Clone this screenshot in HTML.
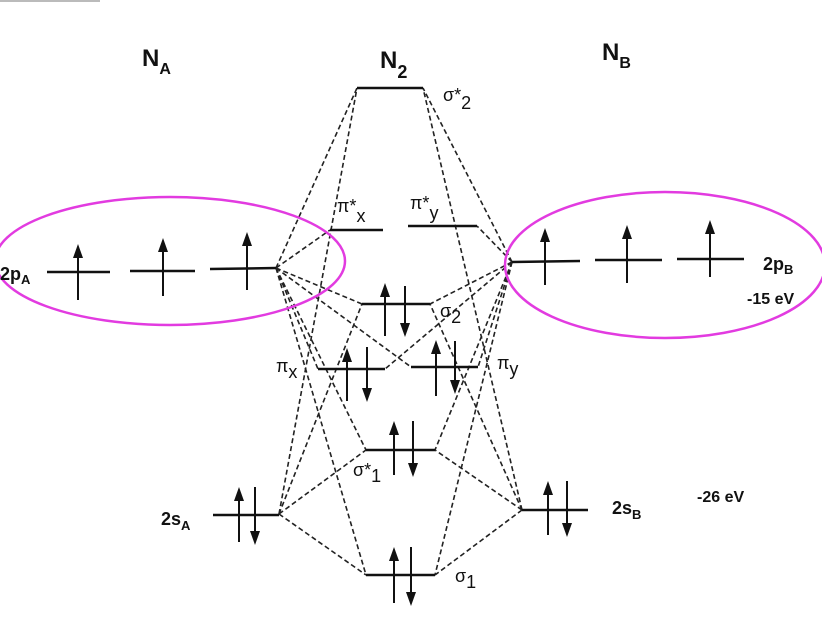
<!DOCTYPE html>
<html><head><meta charset="utf-8"><style>
html,body{margin:0;padding:0;background:#fff;}
svg{display:block;font-family:"Liberation Sans",sans-serif;}
</style></head><body>
<svg width="822" height="636" viewBox="0 0 822 636" xmlns="http://www.w3.org/2000/svg">
<rect x="0" y="0" width="822" height="636" fill="#fff"/>
<rect x="0" y="0" width="100" height="2" fill="#bbb"/>
<g stroke="#222" stroke-width="1.6" stroke-dasharray="5,3" fill="none">
<line x1="276" y1="268" x2="357" y2="88"/>
<line x1="276" y1="268" x2="330" y2="230"/>
<line x1="276" y1="268" x2="362" y2="304"/>
<line x1="276" y1="268" x2="318" y2="369"/>
<line x1="276" y1="268" x2="411" y2="367"/>
<line x1="276" y1="268" x2="366" y2="450"/>
<line x1="276" y1="268" x2="366" y2="575"/>
<line x1="512" y1="262" x2="423" y2="88"/>
<line x1="512" y1="262" x2="477" y2="226"/>
<line x1="512" y1="262" x2="430" y2="304"/>
<line x1="512" y1="262" x2="478" y2="367"/>
<line x1="512" y1="262" x2="385" y2="369"/>
<line x1="512" y1="262" x2="435" y2="450"/>
<line x1="512" y1="262" x2="435" y2="575"/>
<line x1="279" y1="514" x2="357" y2="88"/>
<line x1="279" y1="514" x2="362" y2="304"/>
<line x1="279" y1="514" x2="366" y2="450"/>
<line x1="279" y1="514" x2="366" y2="575"/>
<line x1="522" y1="510" x2="423" y2="88"/>
<line x1="522" y1="510" x2="430" y2="304"/>
<line x1="522" y1="510" x2="435" y2="450"/>
<line x1="522" y1="510" x2="435" y2="575"/>
</g>
<g stroke="#111" stroke-width="2.5" fill="none">
<line x1="357" y1="88" x2="423" y2="88"/>
<line x1="330" y1="230" x2="383" y2="230"/>
<line x1="408" y1="226" x2="477" y2="226"/>
<line x1="362" y1="304" x2="430" y2="304"/>
<line x1="318" y1="369" x2="385" y2="369"/>
<line x1="411" y1="367" x2="478" y2="367"/>
<line x1="366" y1="450" x2="435" y2="450"/>
<line x1="366" y1="575" x2="435" y2="575"/>
<line x1="213" y1="515" x2="279" y2="515"/>
<line x1="522" y1="510" x2="588" y2="510"/>
<line x1="47" y1="272" x2="110" y2="272"/>
<line x1="130" y1="271" x2="195" y2="271"/>
<line x1="210" y1="269" x2="276" y2="268"/>
<line x1="512" y1="262" x2="580" y2="261"/>
<line x1="595" y1="260" x2="662" y2="260"/>
<line x1="677" y1="259" x2="744" y2="259"/>
</g>
<g stroke="#111" stroke-width="2">
<line x1="78" y1="300" x2="78" y2="250"/>
<line x1="163" y1="296" x2="163" y2="244"/>
<line x1="247" y1="290" x2="247" y2="238"/>
<line x1="545" y1="285" x2="545" y2="234"/>
<line x1="627" y1="283" x2="627" y2="231"/>
<line x1="710" y1="277" x2="710" y2="226"/>
<line x1="385" y1="336" x2="385" y2="289"/>
<line x1="347" y1="401" x2="347" y2="354"/>
<line x1="436" y1="396" x2="436" y2="346"/>
<line x1="394" y1="475" x2="394" y2="427"/>
<line x1="239" y1="542" x2="239" y2="493"/>
<line x1="548" y1="535" x2="548" y2="487"/>
<line x1="394" y1="603" x2="394" y2="553"/>
<line x1="405" y1="286" x2="405" y2="331"/>
<line x1="367" y1="347" x2="367" y2="396"/>
<line x1="455" y1="341" x2="455" y2="388"/>
<line x1="413" y1="421" x2="413" y2="471"/>
<line x1="255" y1="487" x2="255" y2="539"/>
<line x1="567" y1="481" x2="567" y2="531"/>
<line x1="411" y1="547" x2="411" y2="600"/>
</g>
<g fill="#111">
<polygon points="73,258 78,244 83,258"/>
<polygon points="158,252 163,238 168,252"/>
<polygon points="242,246 247,232 252,246"/>
<polygon points="540,242 545,228 550,242"/>
<polygon points="622,239 627,225 632,239"/>
<polygon points="705,234 710,220 715,234"/>
<polygon points="380,297 385,283 390,297"/>
<polygon points="342,362 347,348 352,362"/>
<polygon points="431,354 436,340 441,354"/>
<polygon points="389,435 394,421 399,435"/>
<polygon points="234,501 239,487 244,501"/>
<polygon points="543,495 548,481 553,495"/>
<polygon points="389,561 394,547 399,561"/>
<polygon points="400,323 405,337 410,323"/>
<polygon points="362,388 367,402 372,388"/>
<polygon points="450,380 455,394 460,380"/>
<polygon points="408,463 413,477 418,463"/>
<polygon points="250,531 255,545 260,531"/>
<polygon points="562,523 567,537 572,523"/>
<polygon points="406,592 411,606 416,592"/>
</g>
<g fill="none" stroke="#e23be0" stroke-width="2.5">
<ellipse cx="170" cy="261" rx="175" ry="64"/>
<ellipse cx="665" cy="265" rx="160" ry="73"/>
</g>
<g fill="#111" font-size="24" font-weight="bold">
<text x="142" y="66">N<tspan font-size="16" dy="8">A</tspan></text>
<text x="380" y="68">N<tspan font-size="18" dy="10">2</tspan></text>
<text x="602" y="60">N<tspan font-size="16" dy="8">B</tspan></text>
</g>
<g fill="#111" font-size="18">
<text x="443" y="101">σ*<tspan dy="8">2</tspan></text>
<text x="337" y="212">π*<tspan dy="10">x</tspan></text>
<text x="410" y="209">π*<tspan dy="10">y</tspan></text>
<text x="0" y="280" font-weight="bold">2p<tspan font-size="13" dy="4">A</tspan></text>
<text x="763" y="270" font-weight="bold">2p<tspan font-size="13" dy="4">B</tspan></text>
<text x="747" y="304" font-weight="bold" font-size="16">-15 eV</text>
<text x="440" y="317">σ<tspan dy="6">2</tspan></text>
<text x="276" y="372">π<tspan dy="6">x</tspan></text>
<text x="497" y="369">π<tspan dy="6">y</tspan></text>
<text x="353" y="476">σ*<tspan dy="6">1</tspan></text>
<text x="161" y="525" font-weight="bold">2s<tspan font-size="13" dy="5">A</tspan></text>
<text x="612" y="514" font-weight="bold">2s<tspan font-size="13" dy="5">B</tspan></text>
<text x="697" y="502" font-weight="bold" font-size="16">-26 eV</text>
<text x="455" y="582">σ<tspan dy="6">1</tspan></text>
</g>
</svg>
</body></html>
